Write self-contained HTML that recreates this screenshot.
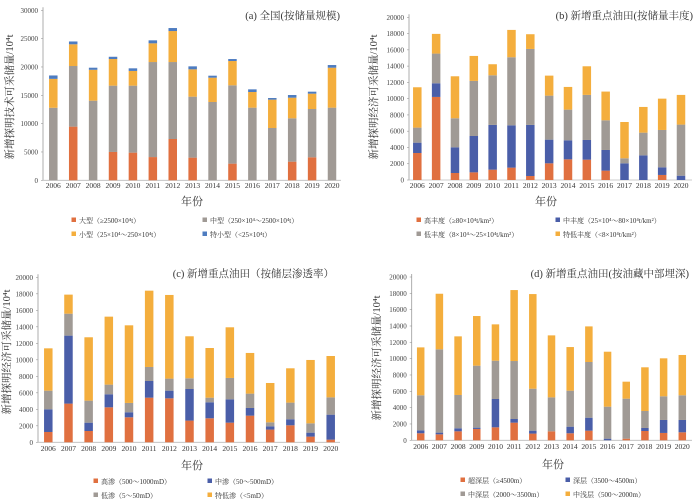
<!DOCTYPE html>
<html><head><meta charset="utf-8">
<style>
html,body{margin:0;padding:0;background:#fff;}
svg{display:block;font-family:"Liberation Serif","Noto Serif CJK SC","Noto Sans CJK SC",serif;}
</style></head>
<body>
<svg id="chart" width="700" height="502" viewBox="0 0 700 502" xmlns="http://www.w3.org/2000/svg"></svg>
<script>
const years = ["2006","2007","2008","2009","2010","2011","2012","2013","2014","2015","2016","2017","2018","2019","2020"];
const colorsA = ["#e07040","#a09a95","#f4ae3d","#4e7cc0"];
const colorsBCD = ["#e07040","#4a5ea8","#a09a95","#f4ae3d"];

// Panel a: large, medium, small, tiny
const aLarge = [0,9470,0,5000,4880,4100,7290,4000,0,2940,0,0,3290,4060,0];
const aMedium = [12800,10700,14050,11700,11820,16770,13580,10760,13820,13820,12820,9230,7650,8520,12820];
const aSmall = [5100,3830,5450,4700,2600,3300,5470,4820,4290,4290,2760,5000,3640,2710,7050];
const aTiny = [600,500,370,400,460,530,530,530,350,350,470,290,470,350,470];
const aTicks = [0,5000,10000,15000,20000,25000,30000];

// Panel b: high, medium, low, extra-low abundance
const bHigh = [3320,10210,860,940,1270,1520,490,2050,2540,2500,1150,0,0,620,0];
const bMid = [1270,1680,3160,4470,5500,5200,6280,2910,2340,2420,2540,2050,3030,940,530];
const bLow = [1850,3650,3570,6770,6100,8370,9340,5410,3770,5540,3650,620,2790,4590,6280];
const bXLow = [4960,2420,5160,3070,1360,3360,1810,2460,2790,3520,3530,4460,3160,3850,3650];

// Panel c: high, medium, low, extra-low permeability
const cHigh = [1250,4690,1370,4240,3030,5410,5330,2630,2910,2380,3230,1540,2060,690,320];
const cMid = [2750,8240,1010,1580,610,2020,930,3830,1940,2830,930,400,730,480,3030];
const cLow = [2260,2660,2670,1170,1130,1700,1460,1300,560,2590,1740,480,2020,1130,2100];
const cXLow = [5130,2310,7680,8240,9410,9250,10140,5090,6020,6140,4930,4770,4160,7680,5010];

// Panel d: ultra-deep, deep, mid-deep, mid-shallow
const dUltra = [860,730,1100,1390,1590,2160,820,1100,860,1180,0,200,1140,900,980];
const dDeep = [360,210,370,160,3470,450,360,0,810,1590,200,0,370,1590,1510];
const dMidDeep = [4290,10200,4080,7590,4690,7100,5140,4160,4410,6820,3920,4900,2080,2900,3020];
const dShallow = [5870,6810,7180,6080,4450,8690,11590,7590,5340,4360,6730,2080,5350,4650,4940];
const bcdTicks = [0,2000,4000,6000,8000,10000,12000,14000,16000,18000,20000];

const NS = "http://www.w3.org/2000/svg";
const svg = document.getElementById("chart");
function el(tag, attrs, parent, text){
  const e = document.createElementNS(NS, tag);
  for (const k in attrs) e.setAttribute(k, attrs[k]);
  if (text !== undefined) e.textContent = text;
  (parent||svg).appendChild(e);
  return e;
}

const panels = [
  {id:"a", series:[aLarge,aMedium,aSmall,aTiny], ticks:aTicks, max:30000, colors:colorsA,
   ax:43, y0:180.3, yTop:10.3, first:53.3, last:332, right:341, bw:8.5,
   title:"(a) 全国(按储量规模)", tx:340, ty:19,
   ytitle:"新增探明技术可采储量/10⁴t", ytx:13, yty:97,
   xl:188, xt:205, xtx:192,
   leg:[["大型（≥2500×10⁴t）",74,223],["中型（250×10⁴～2500×10⁴t）",205,223],["小型（25×10⁴～250×10⁴t）",74,237],["特小型（<25×10⁴t）",205,237]]},
  {id:"b", series:[bHigh,bMid,bLow,bXLow], ticks:bcdTicks, max:20000, colors:colorsBCD,
   ax:409, y0:180, yTop:17.3, first:417.3, last:681, right:692, bw:8.5,
   title:"(b) 新增重点油田(按储量丰度)", tx:693, ty:19,
   ytitle:"新增探明经济可采储量/10⁴t", ytx:377, yty:97,
   xl:188, xt:205, xtx:546,
   leg:[["高丰度（≥80×10⁴t/km²）",419,223],["中丰度（25×10⁴～80×10⁴t/km²）",558,223],["低丰度（8×10⁴～25×10⁴t/km²）",419,237],["特低丰度（<8×10⁴t/km²）",558,237]]},
  {id:"c", series:[cHigh,cMid,cLow,cXLow], ticks:bcdTicks, max:20000, colors:colorsBCD,
   ax:38, y0:442.3, yTop:277.3, first:48.3, last:330.7, right:340, bw:8.5,
   title:"(c) 新增重点油田（按储层渗透率）", tx:334, ty:277,
   ytitle:"新增探明经济可采储量/10⁴t", ytx:10, yty:352,
   xl:451, xt:469, xtx:192,
   leg:[["高渗（500～1000mD）",96,484],["中渗（50～500mD）",210,484],["低渗（5～50mD）",96,498],["特低渗（<5mD）",210,498]]},
  {id:"d", series:[dUltra,dDeep,dMidDeep,dShallow], ticks:bcdTicks, max:20000, colors:colorsBCD,
   ax:411.7, y0:440.3, yTop:277, first:420.7, last:682.3, right:692, bw:7.5,
   title:"(d) 新增重点油田(按油藏中部埋深)", tx:689, ty:277,
   ytitle:"新增探明经济可采储量/10⁴t", ytx:380, yty:358,
   xl:449, xt:468, xtx:553,
   leg:[["超深层（≥4500m）",463,483],["深层（3500～4500m）",568,483],["中深层（2000～3500m）",463,497],["中浅层（500～2000m）",568,497]]}
];

const seriesNames = ["series-1","series-2","series-3","series-4"];

panels.forEach(p=>{
  const g = el("g",{});
  
  
  const yScale = v => p.y0 - v/p.max*(p.y0-p.yTop);
  const step = (p.last-p.first)/(years.length-1);
  const xScale = i => p.first + i*step;
  const ya = el("line",{x1:p.ax,y1:p.yTop-3,x2:p.ax,y2:p.y0,stroke:"#999","stroke-width":0.8},g);
  
  
  const xa = el("line",{x1:p.ax,y1:p.y0,x2:p.right,y2:p.y0,stroke:"#bbb","stroke-width":0.8},g);
  
  
  p.ticks.forEach(t=>{
    const tl = el("text",{x:p.ax-5,y:yScale(t)+2.5,"font-size":7,"text-anchor":"end",fill:"#444"},g,String(t));
    
    
    const tk = el("line",{x1:p.ax-2,y1:yScale(t),x2:p.ax,y2:yScale(t),stroke:"#999","stroke-width":0.6},g);
    
    
  });
  years.forEach((yr,i)=>{
    const xt = el("text",{x:xScale(i),y:p.xl,"font-size":7.5,"text-anchor":"middle",fill:"#333"},g,yr);
    
    
    let cum = 0;
    p.series.forEach((s,k)=>{
      const v = s[i];
      if (v>0){
        const r = el("rect",{x:xScale(i)-p.bw/2,y:yScale(cum+v),width:p.bw,height:yScale(cum)-yScale(cum+v),fill:p.colors[k]},g);
        
        
      }
      cum += v;
    });
  });
  const ti = el("text",{x:p.tx,y:p.ty,"font-size":10.5,"text-anchor":"end",fill:"#333"},g,p.title);
  
  
  const yt = el("text",{x:p.ytx,y:p.yty,"font-size":10.5,"text-anchor":"middle",fill:"#333",transform:"rotate(-90 "+p.ytx+" "+p.yty+")"},g,p.ytitle);
  
  
  const xt2 = el("text",{x:p.xtx,y:p.xt,"font-size":11,"text-anchor":"middle",fill:"#333"},g,"年份");
  
  
  p.leg.forEach((L,k)=>{
    const m = el("rect",{x:L[1]-2.5,y:L[2]-5.5,width:4.5,height:4.5,fill:p.colors[k]},g);
    
    
    const lt = el("text",{x:L[1]+5,y:L[2],"font-size":7,fill:"#333"},g,L[0]);
    
    
  });
});
</script>
</body></html>
